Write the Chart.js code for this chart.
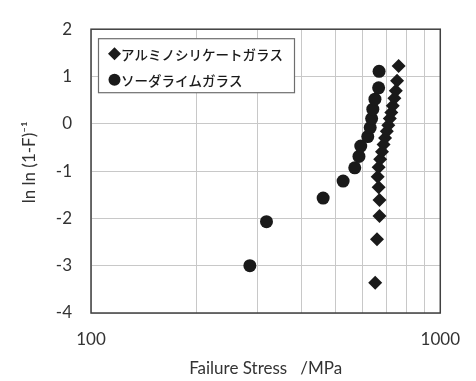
<!DOCTYPE html>
<html>
<head>
<meta charset="utf-8">
<script src="https://cdn.jsdelivr.net/npm/chart.js@4/dist/chart.umd.min.js"></script>
<style>
  html, body { margin: 0; padding: 0; background: #fff; }
  #wrap { width: 476px; height: 381px; }
</style>
</head>
<body>
<div id="wrap"><canvas id="c" width="476" height="381"></canvas></div>
<script>
// Series names
const seriesNames = ['アルミノシリケートガラス', 'ソーダライムガラス'];
// Aluminosilicate glass: failure stress (MPa) and ln ln (1-F)^-1
const aluStress = [651, 659, 670, 670, 666, 662, 666, 673, 681, 688, 695, 703, 710, 717, 724, 731, 739, 746, 752, 760];
const aluLnLn   = [-3.36, -2.44, -1.95, -1.61, -1.34, -1.12, -0.92, -0.75, -0.59, -0.44, -0.30, -0.16, -0.03, 0.11, 0.24, 0.38, 0.54, 0.70, 0.91, 1.22];
// Soda-lime glass
const sodaStress = [285, 318, 462, 527, 569, 585, 592, 620, 630, 636, 641, 650, 666, 668];
const sodaLnLn   = [-3.00, -2.07, -1.57, -1.21, -0.93, -0.69, -0.47, -0.27, -0.08, 0.11, 0.31, 0.52, 0.76, 1.11];
// Axis ticks
const xGridValues = [100, 200, 300, 400, 500, 600, 700, 800, 900, 1000];
const xTickLabels = [100, 1000];
const yTicks = [-4, -3, -2, -1, 0, 1, 2];

const toPoints = (xs, ys) => xs.map((x, i) => ({ x: x, y: ys[i] }));

const TEXT = '#333333';
const FONT = 'Lato, "Open Sans", sans-serif';

const boxPlugin = {
  id: 'frameAndLegend',
  afterDatasetsDraw(chart) {
    const { ctx, chartArea: a } = chart;
    ctx.save();
    ctx.strokeStyle = '#404040';
    ctx.lineWidth = 1.5;
    ctx.strokeRect(a.left, a.top, a.right - a.left, a.bottom - a.top);
    ctx.restore();
  },
  afterDraw(chart) {
    const { ctx, chartArea: a } = chart;
    const bx = a.left + 7.5, by = a.top + 9.5, bw = 196, bh = 54;
    ctx.save();
    ctx.fillStyle = '#fff';
    ctx.fillRect(bx, by, bw, bh);
    ctx.strokeStyle = '#6e6e6e';
    ctx.lineWidth = 1.2;
    ctx.strokeRect(bx, by, bw, bh);
    ctx.font = '500 13.5px "Noto Sans CJK JP", sans-serif';
    ctx.textBaseline = 'middle';
    const rows = [by + 15, by + 41];
    chart.data.datasets.forEach((ds, i) => {
      const cx = bx + 16, cy = rows[i];
      ctx.fillStyle = '#1a1a1a';
      ctx.beginPath();
      if (ds.pointStyle === 'rectRot') {
        const r = 6.5;
        ctx.moveTo(cx - r, cy); ctx.lineTo(cx, cy - r); ctx.lineTo(cx + r, cy); ctx.lineTo(cx, cy + r);
        ctx.closePath();
      } else {
        ctx.arc(cx, cy, 6, 0, Math.PI * 2);
      }
      ctx.fill();
      ctx.fillText(ds.label, cx + 6.5, cy + 1);
    });
    ctx.restore();
  }
};

new Chart(document.getElementById('c'), {
  type: 'scatter',
  data: {
    datasets: [
      {
        label: seriesNames[0],
        data: toPoints(aluStress, aluLnLn),
        pointStyle: 'rectRot',
        pointRadius: 7,
        backgroundColor: '#1a1a1a',
        borderColor: '#1a1a1a',
        borderWidth: 0
      },
      {
        label: seriesNames[1],
        data: toPoints(sodaStress, sodaLnLn),
        pointStyle: 'circle',
        pointRadius: 6.5,
        backgroundColor: '#1a1a1a',
        borderColor: '#1a1a1a',
        borderWidth: 0
      }
    ]
  },
  options: {
    responsive: false,
    animation: false,
    events: [],
    layout: { padding: { top: 25, right: 32, left: 0, bottom: 0 } },
    plugins: { legend: { display: false }, tooltip: { enabled: false } },
    scales: {
      x: {
        type: 'logarithmic',
        min: 100,
        max: 1000,
        afterFit(s) { s.height = 68; },
        afterBuildTicks(s) { s.ticks = xGridValues.map(v => ({ value: v, major: xTickLabels.includes(v) })); },
        border: { display: false },
        grid: { color: '#c8c8c8', lineWidth: 1, drawTicks: false },
        ticks: {
          autoSkip: false,
          padding: 16,
          color: TEXT,
          font: { family: FONT, size: 17 },
          maxRotation: 0,
          callback: (v) => xTickLabels.includes(v) ? String(v) : ''
        },
        title: {
          display: true,
          text: 'Failure Stress   /MPa',
          color: TEXT,
          font: { family: FONT, size: 17 },
          padding: { top: 0, bottom: 2 }
        }
      },
      y: {
        min: -4,
        max: 2,
        afterFit(s) { s.width = 91; },
        afterBuildTicks(s) { s.ticks = yTicks.map(v => ({ value: v })); },
        border: { display: false },
        grid: { color: '#c8c8c8', lineWidth: 1, drawTicks: false },
        ticks: {
          padding: 19,
          color: TEXT,
          font: { family: FONT, size: 17 },
          callback: (v) => String(v)
        },
        title: {
          display: true,
          text: '    ln ln (1-F)⁻¹',
          color: TEXT,
          font: { family: FONT, size: 17 },
          padding: { top: 19, bottom: 0 }
        }
      }
    }
  },
  plugins: [boxPlugin]
});
</script>
</body>
</html>
